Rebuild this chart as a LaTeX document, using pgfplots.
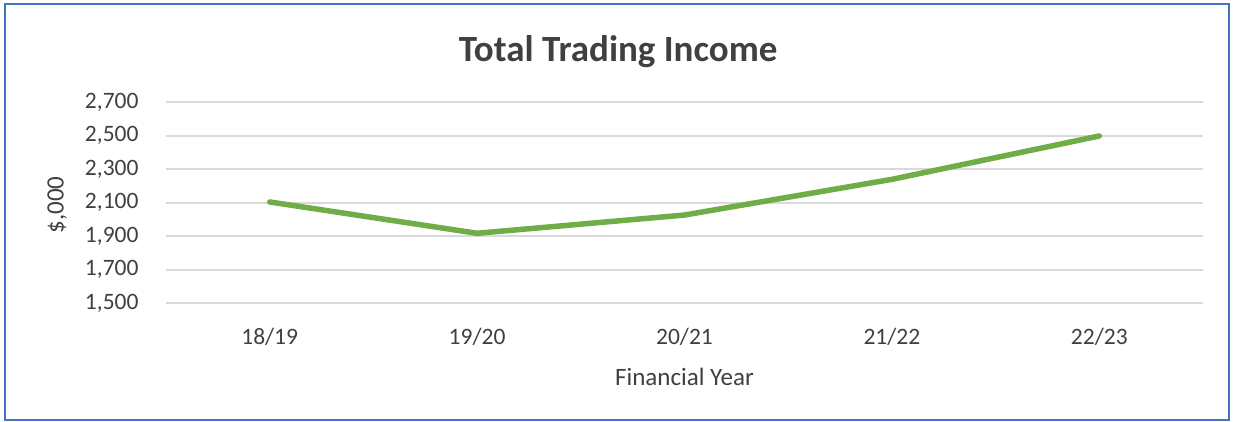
\documentclass[border=0pt]{standalone}
\usepackage{pgfplots}
\pgfplotsset{compat=1.18}
\usepackage{fontspec}
\setmainfont{Carlito}
\definecolor{linegreen}{HTML}{70AD47}
\definecolor{gridgray}{HTML}{D9D9D9}
\definecolor{txt}{HTML}{404040}
\definecolor{frameblue}{HTML}{4472C4}
\begin{document}
\begin{tikzpicture}[x=1pt,y=1pt]
\useasboundingbox (0,0) rectangle (1233,421);
\begin{axis}[
  at={(166pt,117.7pt)}, anchor=south west,
  scale only axis, width=1037pt, height=201pt,
  xmin=-0.5, xmax=4.5, ymin=1500, ymax=2700,
  xtick={0,1,2,3,4},
  xticklabels={18/19,19/20,20/21,21/22,22/23},
  ytick={1500,1700,1900,2100,2300,2500,2700},
  axis line style={draw=none},
  major tick length=0pt,
  ymajorgrids, grid style={gridgray, line width=2pt},
  /pgf/number format/assume math mode=true,
  /pgf/number format/1000 sep={,},
  ticklabel style={font=\fontsize{23.5}{27}\selectfont, text=txt},
  yticklabel style={xshift=-24pt},
  xticklabel style={yshift=-21pt},
  title={\textbf{Total Trading Income}},
  title style={at={(axis description cs:0.436,1.22)}, anchor=center, font=\fontsize{37}{44}\selectfont, text=txt},
  xlabel={Financial Year},
  xlabel style={at={(axis description cs:0.5,-0.368)}, anchor=center, font=\fontsize{25}{30}\selectfont, text=txt},
  ylabel={\$,000},
  ylabel style={at={(axis description cs:-0.105,0.489)}, anchor=center, rotate=0, font=\fontsize{25}{30}\selectfont, text=txt},
  clip=false,
]
\addplot[linegreen, line width=5.5pt, line cap=round, line join=round] coordinates {
  (0,2105) (1,1918) (2,2027) (3,2240) (4,2499)
};
\end{axis}
\draw[frameblue, line width=1.5pt] (5,1) rectangle (1229,417);
\end{tikzpicture}
\end{document}
